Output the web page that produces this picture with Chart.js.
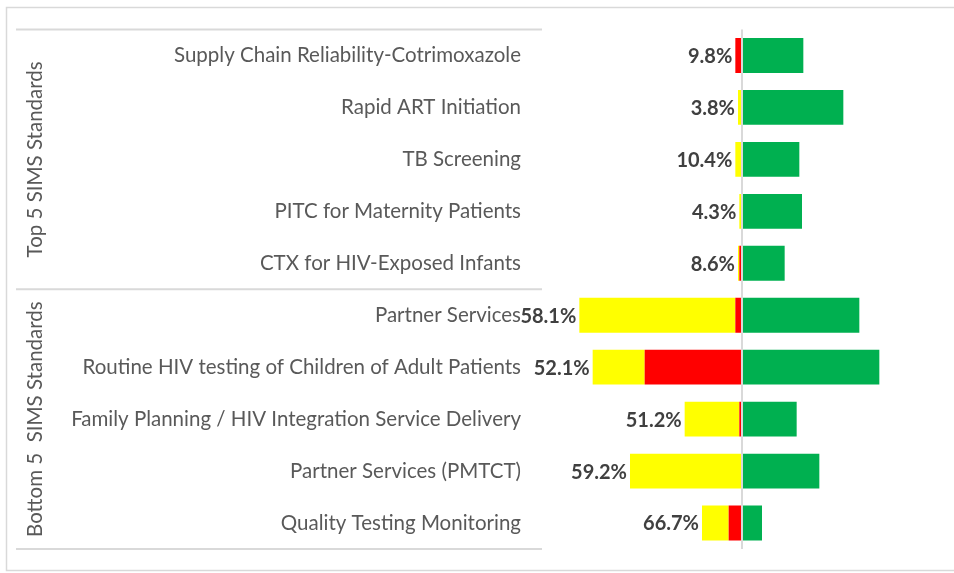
<!DOCTYPE html>
<html>
<head>
<meta charset="utf-8">
<script src="https://cdn.jsdelivr.net/npm/chart.js@4"></script>
<style>
  body { margin: 0; background: #fff; }
  #wrap { width: 954px; height: 573px; }
</style>
</head>
<body>
<div id="wrap"><canvas id="simsChart"></canvas></div>
<script>
// SIMS standards, number of assessments scored in each colour band
const categories = [
    'Supply Chain Reliability-Cotrimoxazole',
    'Rapid ART Initiation',
    'TB Screening',
    'PITC for Maternity Patients',
    'CTX for HIV-Exposed Infants',
    'Partner Services',
    'Routine HIV testing of Children of Adult Patients',
    'Family Planning / HIV Integration Service Delivery',
    'Partner Services (PMTCT)',
    'Quality Testing Monitoring'
];
const greenCounts  = [46, 76, 43, 45, 32, 88, 103, 41, 58, 15];
const yellowCounts = [0, 3, 5, 2, 1, 117, 39, 41, 84, 20];
const redCounts    = [5, 0, 0, 0, 2, 5, 73, 2, 0, 10];

const groupNames = ['Top 5 SIMS Standards', 'Bottom 5  SIMS Standards'];
const groupSizes = [5, 5];

const LINE_GREY = '#D9D9D9';
const TEXT_GREY = '#595959';
const FONT = 'Lato';

// red + yellow as a share of all assessments
const notGreenPct = categories.map((_, i) => {
    const left = redCounts[i] + yellowCounts[i];
    return (left / (left + greenCounts[i]) * 100).toFixed(1) + '%';
});

const negate = arr => arr.map(v => (v ? -v : null));

// outer frame
const framePlugin = {
    id: 'frame',
    beforeDraw(chart) {
        const ctx = chart.ctx;
        ctx.save();
        ctx.strokeStyle = LINE_GREY;
        ctx.lineWidth = 1.5;
        ctx.strokeRect(6.5, 7.5, 980, 563);
        ctx.restore();
    }
};

// group separators and rotated group titles on the left
const groupPlugin = {
    id: 'groups',
    afterDraw(chart) {
        const ctx = chart.ctx;
        const area = chart.chartArea;
        const rowH = (area.bottom - area.top) / categories.length;
        ctx.save();
        ctx.strokeStyle = LINE_GREY;
        ctx.lineWidth = 2;
        let y = area.top;
        const edges = [y];
        groupSizes.forEach(n => { y += n * rowH; edges.push(y); });
        edges.forEach(e => {
            ctx.beginPath();
            ctx.moveTo(16, e);
            ctx.lineTo(area.left, e);
            ctx.stroke();
        });
        ctx.fillStyle = TEXT_GREY;
        ctx.font = '20.5px ' + FONT;
        ctx.textAlign = 'center';
        ctx.textBaseline = 'middle';
        groupNames.forEach((name, g) => {
            const mid = (edges[g] + edges[g + 1]) / 2;
            ctx.save();
            ctx.translate(35, mid);
            ctx.rotate(-Math.PI / 2);
            ctx.fillText(name, 0, 0);
            ctx.restore();
        });
        ctx.restore();
    }
};

// percentage labels at the left end of each bar
const pctPlugin = {
    id: 'pctLabels',
    afterDatasetsDraw(chart) {
        const ctx = chart.ctx;
        const xs = chart.scales.x, ys = chart.scales.y;
        ctx.save();
        ctx.fillStyle = '#404040';
        ctx.font = 'bold 20px ' + FONT;
        ctx.textAlign = 'right';
        ctx.textBaseline = 'middle';
        categories.forEach((_, i) => {
            const left = redCounts[i] + yellowCounts[i];
            const x = xs.getPixelForValue(-left) - 3;
            ctx.fillText(notGreenPct[i], x, ys.getPixelForValue(i) + 1);
        });
        ctx.restore();
    }
};

const barStyle = {
    borderWidth: 0,
    barPercentage: 0.67,
    categoryPercentage: 1
};

new Chart(document.getElementById('simsChart'), {
    type: 'bar',
    data: {
        labels: categories,
        datasets: [
            { label: 'Red', data: negate(redCounts), backgroundColor: '#FF0000', ...barStyle },
            { label: 'Yellow', data: negate(yellowCounts), backgroundColor: '#FFFF00', ...barStyle },
            { label: 'Green', data: greenCounts, backgroundColor: '#00B050', ...barStyle }
        ]
    },
    options: {
        indexAxis: 'y',
        responsive: true,
        maintainAspectRatio: false,
        animation: false,
        layout: { padding: { top: 29.5, bottom: 24, right: 12, left: 0 } },
        plugins: { legend: { display: false }, tooltip: { enabled: false } },
        scales: {
            x: {
                stacked: true,
                min: -150,
                max: 150,
                z: 1,
                ticks: { display: false, stepSize: 50 },
                border: { display: false },
                grid: {
                    drawTicks: false,
                    lineWidth: 2,
                    color: c => (c.tick && c.tick.value === 0 ? LINE_GREY : 'transparent')
                },
                afterFit(scale) { scale.height = 0; }
            },
            y: {
                stacked: true,
                grid: { display: false, drawTicks: false },
                border: { display: false },
                ticks: {
                    color: TEXT_GREY,
                    font: { family: FONT, size: 20.5 },
                    padding: 21,
                    autoSkip: false
                },
                afterFit(scale) {
                    scale.width = 542;
                    scale.paddingTop = 0;
                    scale.paddingBottom = 0;
                }
            }
        }
    },
    plugins: [framePlugin, groupPlugin, pctPlugin]
});
</script>
</body>
</html>
